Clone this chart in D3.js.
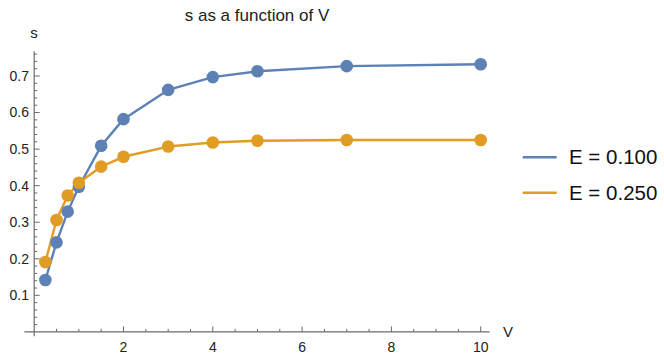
<!DOCTYPE html>
<html>
<head>
<meta charset="utf-8">
<script src="https://cdn.jsdelivr.net/npm/d3@7"></script>
<style>
  html, body { margin: 0; padding: 0; background: #fff; }
  svg { display: block; font-family: "Liberation Sans", Arial, sans-serif; }
</style>
</head>
<body>
<svg id="chart" width="664" height="357"></svg>
<script>
// Input voltages V
const vValues = [0.25, 0.5, 0.75, 1, 1.5, 2, 3, 4, 5, 7, 10];
// s for each E setting
const sE100 = [0.142, 0.245, 0.329, 0.397, 0.509, 0.582, 0.662, 0.697, 0.713, 0.727, 0.732];
const sE250 = [0.191, 0.306, 0.373, 0.408, 0.452, 0.479, 0.507, 0.518, 0.523, 0.525, 0.525];
const seriesNames = ["E = 0.100", "E = 0.250"];
const seriesColors = ["#5E81B5", "#E19C24"];
const xTicks = [2, 4, 6, 8, 10];
const yTicks = [0.1, 0.2, 0.3, 0.4, 0.5, 0.6, 0.7];

const series = [sE100, sE250].map((vals, i) => ({
  name: seriesNames[i],
  color: seriesColors[i],
  points: vals.map((s, j) => ({ v: vValues[j], s }))
}));

const svg = d3.select("#chart");
const axisColor = "#6b6b6b";

const x = d3.scaleLinear().domain([0, 8]).range([34.2, 391.4]);
const y = d3.scaleLinear().domain([0, 0.7]).range([331.9, 76]);

// Axis lines, drawn slightly past the data range
svg.append("line")
  .attr("x1", x(-0.22)).attr("x2", x(10.2))
  .attr("y1", y(0)).attr("y2", y(0))
  .attr("stroke", axisColor).attr("stroke-width", 1.2);
svg.append("line")
  .attr("x1", x(0)).attr("x2", x(0))
  .attr("y1", y(-0.012)).attr("y2", y(0.768))
  .attr("stroke", axisColor).attr("stroke-width", 1.2);

// X ticks: majors every 2, minors every 0.5 (ticks point inward)
const xMinor = d3.range(0.5, 10.01, 0.5).filter(v => Math.abs(v / 2 - Math.round(v / 2)) > 1e-6);
svg.append("g").selectAll("line").data(xMinor).join("line")
  .attr("x1", d => x(d)).attr("x2", d => x(d))
  .attr("y1", y(0)).attr("y2", y(0) - 3)
  .attr("stroke", axisColor).attr("stroke-width", 1);
svg.append("g").selectAll("line").data(xTicks).join("line")
  .attr("x1", d => x(d)).attr("x2", d => x(d))
  .attr("y1", y(0)).attr("y2", y(0) - 5.5)
  .attr("stroke", axisColor).attr("stroke-width", 1);
svg.append("g").selectAll("text").data(xTicks).join("text")
  .attr("x", d => x(d)).attr("y", 351.5)
  .attr("text-anchor", "middle")
  .attr("font-size", 14).attr("fill", "#222")
  .text(d => d);

// Y ticks: majors every 0.1, minors every 0.02
const yMinor = d3.range(1, 39).map(k => k * 0.02).filter(v => Math.abs(v * 10 - Math.round(v * 10)) > 1e-6);
svg.append("g").selectAll("line").data(yMinor).join("line")
  .attr("x1", x(0)).attr("x2", x(0) + 3)
  .attr("y1", d => y(d)).attr("y2", d => y(d))
  .attr("stroke", axisColor).attr("stroke-width", 1);
svg.append("g").selectAll("line").data(yTicks).join("line")
  .attr("x1", x(0)).attr("x2", x(0) + 5.5)
  .attr("y1", d => y(d)).attr("y2", d => y(d))
  .attr("stroke", axisColor).attr("stroke-width", 1);
svg.append("g").selectAll("text").data(yTicks).join("text")
  .attr("x", 29).attr("y", d => y(d))
  .attr("dy", "0.35em")
  .attr("text-anchor", "end")
  .attr("font-size", 14).attr("fill", "#222")
  .text(d => d3.format(".1f")(d));

// Axis labels and title
svg.append("text").attr("x", 34).attr("y", 37.5)
  .attr("text-anchor", "middle").attr("font-size", 15).attr("fill", "#222").text("s");
svg.append("text").attr("x", 503).attr("y", 337)
  .attr("font-size", 15).attr("fill", "#222").text("V");
svg.append("text").attr("x", 257).attr("y", 20.5)
  .attr("text-anchor", "middle").attr("font-size", 17).attr("fill", "#222")
  .text("s as a function of V");

// Series lines and markers
const line = d3.line().x(d => x(d.v)).y(d => y(d.s));
series.forEach(sr => {
  svg.append("path").datum(sr.points)
    .attr("d", line).attr("fill", "none")
    .attr("stroke", sr.color).attr("stroke-width", 2.4)
    .attr("stroke-linejoin", "round");
});
series.forEach(sr => {
  svg.append("g").selectAll("circle").data(sr.points).join("circle")
    .attr("cx", d => x(d.v)).attr("cy", d => y(d.s)).attr("r", 6.3)
    .attr("fill", sr.color);
});

// Legend
const legend = svg.append("g");
series.forEach((sr, i) => {
  const ly = 157.3 + i * 35.4;
  legend.append("line")
    .attr("x1", 522.7).attr("x2", 556.7).attr("y1", ly).attr("y2", ly)
    .attr("stroke", sr.color).attr("stroke-width", 2.6);
  legend.append("text")
    .attr("x", 569).attr("y", ly).attr("dy", "0.35em")
    .attr("font-size", 20.5).attr("fill", "#111")
    .text(sr.name);
});
</script>
</body>
</html>
